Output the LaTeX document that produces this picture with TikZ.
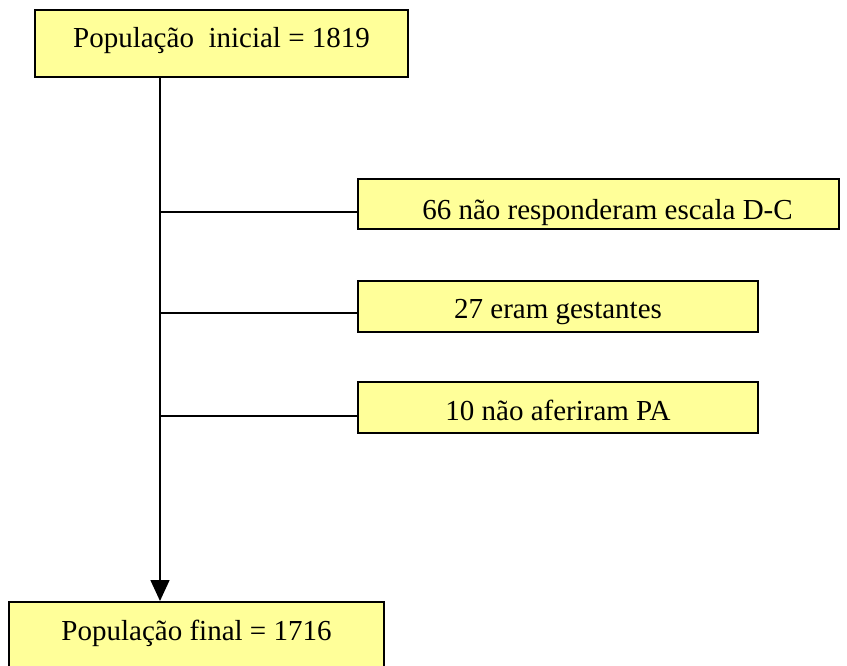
\documentclass[tikz,border=0pt]{standalone}
\usepackage{fontspec}
\setmainfont{Liberation Serif}
\usetikzlibrary{arrows.meta}
\definecolor{boxfill}{HTML}{FFFF99}
\tikzset{
  flowbox/.style={draw=black, line width=2pt, fill=boxfill, inner xsep=0pt, inner ysep=0pt,
    anchor=base, font=\fontsize{29}{34}\selectfont},
  link/.style={draw=black, line width=1.5pt}
}
\begin{document}
\begin{tikzpicture}[x=1pt,y=-1pt]
  \useasboundingbox (0,0) rectangle (847,665);
  \clip (0,0) rectangle (847,665);

  % boxes: centre x and baseline y, with height split above/below the baseline
  \node[flowbox, minimum width=373pt, text height=37pt, text depth=30pt]
    (start) at (221.5,47) {População\ \ inicial = 1819};
  \node[flowbox, minimum width=481pt, text height=40pt, text depth=10pt]
    (ex1) at (598.5,219) {\hspace*{18pt}66 não responderam escala D-C};
  \node[flowbox, minimum width=400pt, text height=37pt, text depth=14pt]
    (ex2) at (558,318) {27 eram gestantes};
  \node[flowbox, minimum width=400pt, text height=38pt, text depth=13pt]
    (ex3) at (558,420) {10 não aferiram PA};
  \node[flowbox, minimum width=375pt, text height=38pt, text depth=45pt]
    (final) at (196.5,640) {População final = 1716};

  % main spine and branch points
  \coordinate (spine) at (160,0);
  \coordinate (j1) at (160,212);
  \coordinate (j2) at (160,313);
  \coordinate (j3) at (160,416);

  \draw[link, -{Triangle[length=21pt,width=19pt]}]
    (start.south -| spine) -- (final.north -| spine);
  \draw[link] (j1) -- (j1 -| ex1.west);
  \draw[link] (j2) -- (j2 -| ex2.west);
  \draw[link] (j3) -- (j3 -| ex3.west);
\end{tikzpicture}
\end{document}
